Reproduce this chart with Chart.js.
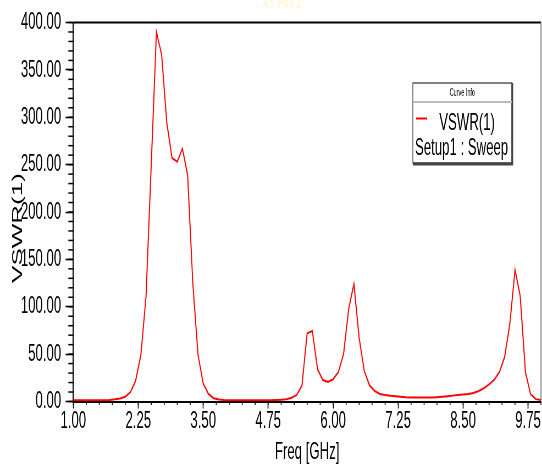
<!DOCTYPE html>
<html><head><meta charset="utf-8">
<script src="https://cdn.jsdelivr.net/npm/chart.js@4.4.0/dist/chart.umd.min.js"></script>
<style>
html,body{margin:0;padding:0;background:#fff;overflow:hidden;width:542px;height:464px;}
#wrap{position:absolute;left:0;top:0;width:986px;height:464px;transform:scaleX(0.5497);transform-origin:0 0;}
</style></head><body>
<div id="wrap"><canvas id="c"></canvas></div>
<script>
const freqGHz = [1.0,1.1,1.2,1.3,1.4,1.5,1.6,1.7,1.8,1.9,
  2.0,2.1,2.2,2.3,2.4,2.5,2.6,2.7,2.8,2.9,
  3.0,3.1,3.2,3.3,3.4,3.5,3.6,3.7,3.8,3.9,
  4.0,4.1,4.2,4.3,4.4,4.5,4.6,4.7,4.8,4.9,
  5.0,5.1,5.2,5.3,5.4,5.5,5.6,5.7,5.8,5.9,
  6.0,6.1,6.2,6.3,6.4,6.5,6.6,6.7,6.8,6.9,
  7.0,7.1,7.2,7.3,7.4,7.5,7.6,7.7,7.8,7.9,
  8.0,8.1,8.2,8.3,8.4,8.5,8.6,8.7,8.8,8.9,
  9.0,9.1,9.2,9.3,9.4,9.5,9.6,9.7,9.8,9.9,10.0];
const vswr = [1.2,1.2,1.2,1.2,1.2,1.3,1.4,1.7,2.3,3.2,
  5,10,22,49,111,250,390,366,294,257,
  253,267,239,125,49,19,8,3.5,2,1.5,
  1.3,1.2,1.2,1.2,1.2,1.2,1.2,1.2,1.3,1.5,
  1.8,2.5,4,7,17,72,74.5,34,22.7,20.6,
  23.5,31,50,98,124,67,32,17,11,8,
  6.8,6,5.5,5,4.5,4.3,4.2,4.2,4.2,4.3,
  4.5,4.9,5.5,6.2,6.8,7.3,8,9,11,14,
  18,23,31,47,82,139,111,31,7.5,2.5,1.5];
const xTickValues = [1.00,2.25,3.50,4.75,6.00,7.25,8.50,9.75];
const yTickValues = [0,50,100,150,200,250,300,350,400];
const chartTitle = 'XY Plot 2';
const xTitle = 'Freq [GHz]';
const yTitle = 'VSWR(1)';
const legendHeader = 'Curve Info';
const seriesName = 'VSWR(1)';
const seriesSetup = 'Setup1 : Sweep';

const FONT = "'Liberation Sans', Arial, sans-serif";

const decor = {
  id: 'decor',
  afterDraw(chart) {
    const ctx = chart.ctx;
    const a = chart.chartArea;
    const xs = chart.scales.x, ys = chart.scales.y;
    ctx.save();
    // frame top and right
    ctx.strokeStyle = '#000'; ctx.lineWidth = 2;
    ctx.beginPath(); ctx.moveTo(a.left, a.top); ctx.lineTo(a.right, a.top); ctx.stroke();
    ctx.strokeStyle = '#777'; ctx.lineWidth = 1.8;
    ctx.beginPath(); ctx.moveTo(a.right, a.top); ctx.lineTo(a.right, a.bottom); ctx.stroke();
    // minor ticks
    ctx.strokeStyle = '#000'; ctx.lineWidth = 1.6;
    for (let v = xs.min; v <= xs.max + 1e-9; v += 0.25) {
      const px = xs.getPixelForValue(v);
      ctx.beginPath(); ctx.moveTo(px, a.bottom); ctx.lineTo(px, a.bottom + 3.5); ctx.stroke();
    }
    ctx.lineWidth = 1.5;
    for (let v = ys.min; v <= ys.max + 1e-9; v += 10) {
      const py = ys.getPixelForValue(v);
      ctx.beginPath(); ctx.moveTo(a.left - 9, py); ctx.lineTo(a.left, py); ctx.stroke();
    }
    // y title
    ctx.fillStyle = '#000';
    ctx.font = '26px ' + FONT;
    ctx.textAlign = 'center'; ctx.textBaseline = 'middle';
    ctx.save(); ctx.translate(33, 228); ctx.rotate(-Math.PI/2); ctx.fillText(yTitle, 0, 0); ctx.restore();
    // faint chart title
    ctx.fillStyle = '#fff1c4';
    ctx.font = '17px ' + FONT;
    ctx.fillText(chartTitle, 513, 3);
    // legend box
    const L = 751, R = 931, T = 83, B = 163;
    ctx.fillStyle = '#fff'; ctx.fillRect(L, T, R - L, B - T);
    ctx.strokeStyle = '#555'; ctx.lineWidth = 1.5;
    ctx.strokeRect(L, T, R - L, B - T);
    ctx.strokeStyle = '#444'; ctx.lineWidth = 3;
    ctx.beginPath(); ctx.moveTo(R + 1, T); ctx.lineTo(R + 1, B + 1); ctx.lineTo(L, B + 1); ctx.stroke();
    ctx.strokeStyle = '#bbb'; ctx.lineWidth = 2;
    ctx.beginPath(); ctx.moveTo(L, 102); ctx.lineTo(R, 102); ctx.stroke();
    ctx.fillStyle = '#000';
    ctx.font = '10px ' + FONT;
    ctx.textAlign = 'center'; ctx.textBaseline = 'middle';
    ctx.fillText(legendHeader, (L + R) / 2, 93);
    ctx.strokeStyle = '#ff0000'; ctx.lineWidth = 2;
    ctx.beginPath(); ctx.moveTo(757, 118.5); ctx.lineTo(777, 118.5); ctx.stroke();
    ctx.font = '24px ' + FONT;
    ctx.textAlign = 'left'; ctx.textBaseline = 'alphabetic';
    ctx.fillText(seriesName, 799, 130);
    ctx.fillText(seriesSetup, 755, 155);
    ctx.restore();
  }
};

new Chart(document.getElementById('c'), {
  type: 'line',
  data: {
    datasets: [{
      label: seriesName,
      data: freqGHz.map((f, i) => ({x: f, y: vswr[i]})),
      borderColor: '#ff0000',
      borderWidth: 2,
      pointRadius: 0,
      tension: 0,
      fill: false
    }]
  },
  options: {
    responsive: true,
    maintainAspectRatio: false,
    animation: false,
    devicePixelRatio: 1,
    layout: {padding: {top: 22.5, right: 1.8, left: 0, bottom: 0}},
    plugins: {legend: {display: false}, tooltip: {enabled: false}, title: {display: false}},
    scales: {
      x: {
        type: 'linear', min: 1, max: 10,
        afterBuildTicks: s => { s.ticks = xTickValues.map(v => ({value: v})); },
        afterFit: s => { s.height = 62.5; },
        ticks: {callback: v => Number(v).toFixed(2), color: '#000', font: {family: FONT, size: 24}, maxRotation: 0, autoSkip: false, padding: -2},
        grid: {drawOnChartArea: false, drawTicks: true, tickLength: 7, tickColor: '#000', tickWidth: 1.6},
        border: {display: true, color: '#000', width: 2},
        title: {display: true, text: xTitle, color: '#000', font: {family: FONT, size: 24}, padding: {top: 0, bottom: -3}}
      },
      y: {
        min: 0, max: 400,
        afterBuildTicks: s => { s.ticks = yTickValues.map(v => ({value: v})); },
        afterFit: s => { s.width = 133.3; },
        ticks: {callback: v => Number(v).toFixed(2), color: '#000', font: {family: FONT, size: 24}, padding: 8},
        grid: {drawOnChartArea: false, drawTicks: true, tickLength: 14, tickColor: '#000', tickWidth: 1.6},
        border: {display: true, color: '#000', width: 2}
      }
    }
  },
  plugins: [decor]
});
</script>
</body></html>
